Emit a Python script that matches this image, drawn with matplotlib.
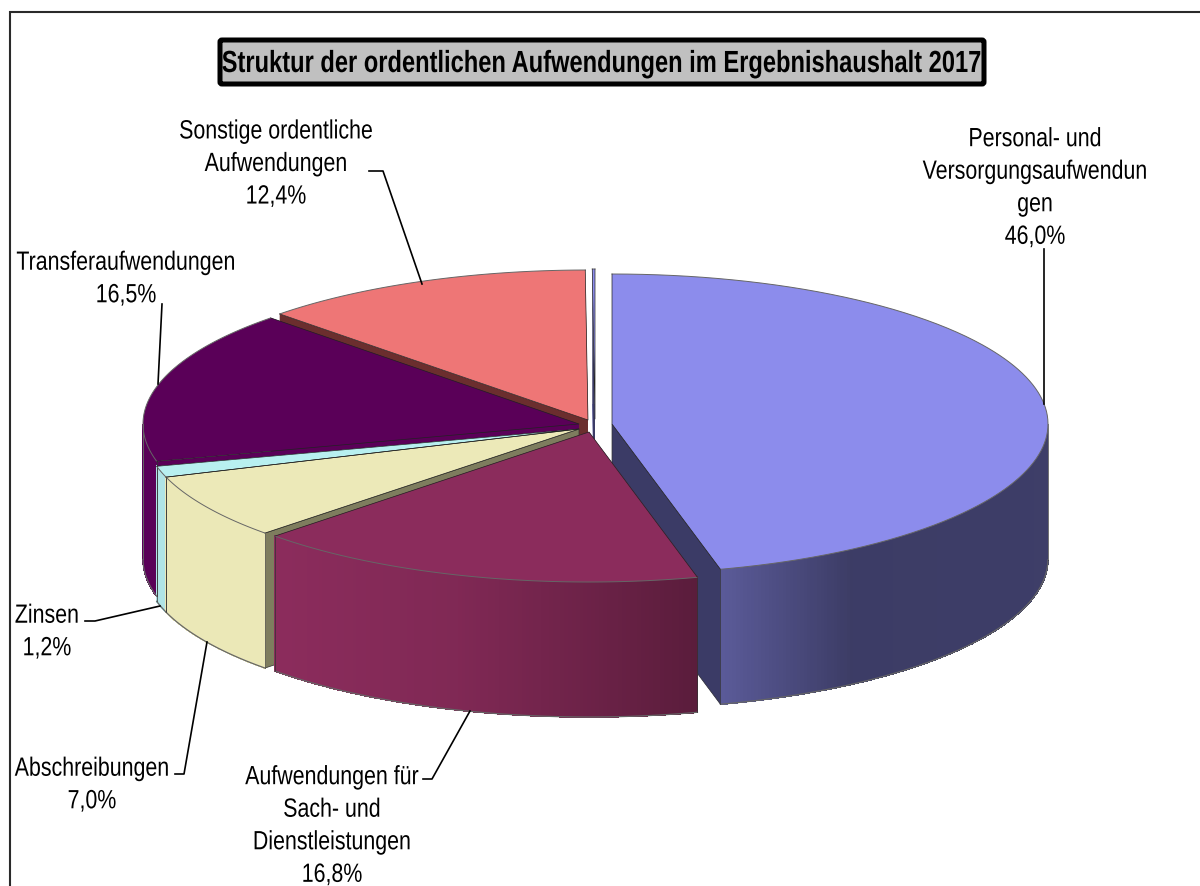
import numpy as np
import matplotlib
matplotlib.use("Agg")
import matplotlib.pyplot as plt
from matplotlib.collections import PolyCollection
from matplotlib.patches import FancyBboxPatch, Rectangle
from matplotlib.patheffects import AbstractPathEffect
from matplotlib.transforms import Affine2D

plt.rcParams["font.family"] = ["Liberation Sans", "DejaVu Sans"]

labels = ["Personal- und\nVersorgungsaufwendun\ngen", "Aufwendungen für\nSach- und\nDienstleistungen",
          "Abschreibungen", "Zinsen", "Transferaufwendungen", "Sonstige ordentliche\nAufwendungen", ""]
shares = [46.0, 16.8, 7.0, 1.2, 16.5, 12.4, 0.1]
title = "Struktur der ordentlichen Aufwendungen im Ergebnishaushalt 2017"

top_colors = ["#8c8cec", "#8b2c5c", "#ece9b8", "#b8f0f0", "#5a0058", "#ee7676", "#8c8cec"]
wall_colors = ["#8c8cec", "#8b2c5c", "#ebe8b7", "#b0e4e6", "#5a0058", "#ee7676", "#8c8cec"]
face_colors = ["#3b3b66", "#8b2c5c", "#7e7d5e", "#b0e4e6", "#5a0058", "#6b2e2e", "#3b3b66"]
centers = [(612, 425), (589, 433), (579, 430), (579, 430), (579, 425), (588, 421), (595, 420)]
label_pos = [(1035, 189), (332, 827), (92, 786), (47, 633), (126, 280), (276, 165)]
leaders = [[(1044, 250), (1044, 405)],
           [(423, 780), (432, 780), (470, 712)],
           [(175, 775), (184, 775), (207, 643)],
           [(85, 622), (95, 622), (160, 607)],
           [(162, 305), (158, 385)],
           [(369, 172), (383, 172), (422, 285)]]

rx, ry, depth = 436, 150, 135
fig = plt.figure(figsize=(12, 8.87), dpi=100)
ax = fig.add_axes([0, 0, 1, 1])
ax.set_xlim(0, 1200)
ax.set_ylim(887, 0)
ax.axis("off")
# the frame runs off the picture on the right and at the bottom
ax.add_patch(Rectangle((10, 13), 1300, 1000, fc="white", ec="#2a2a2a", lw=1.5))


class Squeeze(AbstractPathEffect):
    # no condensed font here, so narrow the glyphs around a fixed x
    def __init__(self, cx, k):
        super().__init__()
        self.cx = cx
        self.k = k

    def draw_path(self, renderer, gc, tpath, affine, rgbFace=None):
        squeeze = Affine2D().translate(-self.cx, 0).scale(self.k, 1).translate(self.cx, 0)
        renderer.draw_path(gc, tpath, affine + squeeze, rgbFace)


def shade(hex_color, s):
    k = np.interp(s, [-1, -0.7, -0.3, 0, 0.25, 0.55, 1], [1, 1, 0.92, 0.78, 0.65, 0.43, 0.44])
    return tuple(np.array(matplotlib.colors.to_rgb(hex_color)) * k)


def slice_arc(c, t0, t1):
    t = np.linspace(t0, t1, max(int((t1 - t0) * 2), 2))
    return c[0] + rx * np.sin(np.radians(t)), c[1] - ry * np.cos(np.radians(t)), t


edges = np.concatenate([[0], np.cumsum(shares)]) / np.sum(shares) * 360
order = [6, 5, 4, 3, 2, 0, 1]
for i in order:
    c = centers[i]
    x, y, t = slice_arc(c, edges[i], edges[i + 1])
    ax.fill(np.r_[c[0], x], np.r_[c[1], y] + depth, fc=wall_colors[i], ec="none")
    # both cut faces, the later slices cover what should not show
    seen = -1 if i == 0 else 0
    for j in (-1 - seen, seen):
        ax.fill([c[0], x[j], x[j], c[0]], [c[1], y[j], y[j] + depth, c[1] + depth],
                fc=face_colors[i], ec="#333333" if i in (0, 2) and j == seen else "none", lw=0.5)
    # outer wall, only the part that looks to the front
    front = (t > 90) & (t < 270)
    xf, yf, tf = x[front], y[front], t[front]
    quads = [[(xf[k], yf[k]), (xf[k + 1], yf[k + 1]), (xf[k + 1], yf[k + 1] + depth), (xf[k], yf[k] + depth)]
             for k in range(len(xf) - 1)]
    cols = [shade(wall_colors[i], np.sin(np.radians(tf[k]))) if i < 2 else wall_colors[i]
            for k in range(len(xf) - 1)]
    if quads:
        ax.add_collection(PolyCollection(quads, facecolors=cols, edgecolors=cols, linewidths=0.5, antialiaseds=False))
        ax.plot(xf, yf + depth, color="#666666", lw=0.9)
        ax.plot([xf[0], xf[0]], [yf[0], yf[0] + depth], color="#333333", lw=0.5)
        ax.plot([xf[-1], xf[-1]], [yf[-1], yf[-1] + depth], color="#333333", lw=0.5)
    ax.fill(np.r_[c[0], x], np.r_[c[1], y], fc=top_colors[i], ec="none")
    ax.plot(x, y, color="#666666", lw=0.7)
    ax.plot([x[0], c[0], x[-1]], [y[0], c[1], y[-1]], color="#222222", lw=0.5)
# outer left and right sides of the solid
ax.plot([centers[4][0] - rx] * 2, [centers[4][1], centers[4][1] + depth], color="#666666", lw=0.7)
ax.plot([centers[0][0] + rx] * 2, [centers[0][1], centers[0][1] + depth], color="#777777", lw=0.7)

ax.add_patch(FancyBboxPatch((220, 41), 764, 44, boxstyle="round,pad=0,rounding_size=2",
                            fc="#c0c0c0", ec="black", lw=3.6))
ax.text(601, 65, title, ha="center", va="center", fontsize=22, fontweight="bold", color="black",
        path_effects=[Squeeze(601, 0.775)])

renderer = fig.canvas.get_renderer()
squeeze_k = 0.81
for name, share, pos, pts in zip(labels, shares, label_pos, leaders):
    txt = ax.text(pos[0], pos[1], name + "\n" + f"{share:.1f}%".replace(".", ","), ha="center", va="center",
                  multialignment="center", fontsize=19, linespacing=1.45, color="black")
    # anchor on the left so the full width stays inside the picture
    left = pos[0] - txt.get_window_extent(renderer).width * squeeze_k / 2
    txt.set_ha("left")
    txt.set_x(left)
    txt.set_path_effects([Squeeze(left, squeeze_k)])
    ax.plot([p[0] for p in pts], [p[1] for p in pts], color="black", lw=1.2)

fig.savefig("out.png", dpi=100)
